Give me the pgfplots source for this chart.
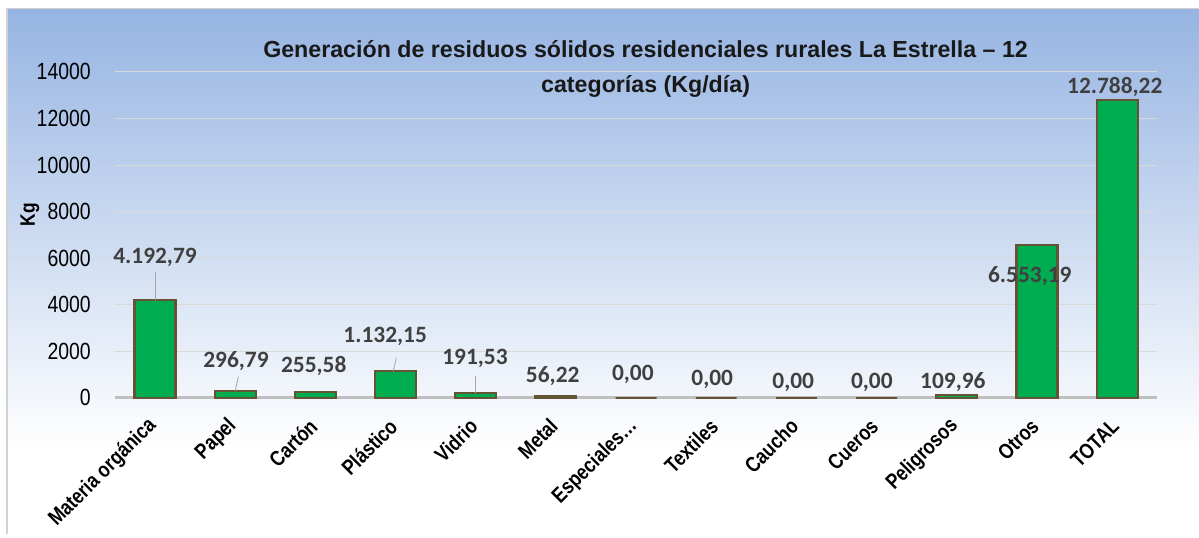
\documentclass[border=0pt]{standalone}
\usepackage{fontspec}
\setmainfont{Liberation Sans}
\newfontfamily\nar[FakeStretch=0.83]{Liberation Sans}
\newfontfamily\carl{Carlito}
\usepackage{pgfplots}
\pgfplotsset{compat=1.18}
\definecolor{bgtop}{RGB}{150,180,226}
\definecolor{barg}{RGB}{0,172,80}
\definecolor{bard}{RGB}{98,84,52}
\definecolor{lbl}{RGB}{64,64,64}
\definecolor{grd}{RGB}{217,217,217}
\definecolor{frm}{RGB}{210,210,210}
\begin{document}
\begin{tikzpicture}[x=1bp,y=1bp]
\fill[white] (0,0) rectangle (1199,538);
\shade[top color=bgtop, bottom color=white] (8,90) rectangle (1199,529);
\draw[frm, line width=1.5bp] (7,4) -- (7,529.5) -- (1199,529.5);
\node[font=\bfseries\fontsize{23.3}{24}\selectfont, anchor=base, text=black!90] at (646,480) {Generación de residuos sólidos residenciales rurales La Estrella – 12};
\node[font=\bfseries\fontsize{23.3}{24}\selectfont, anchor=base, text=black!90] at (646,445) {categorías (Kg/día)};
\node[font=\nar\bfseries\fontsize{21}{22}\selectfont, rotate=90] at (30,323) {Kg};
\begin{axis}[at={(115bp,140bp)}, anchor=south west, scale only axis,
  width=1043bp, height=326bp,
  xmin=-0.5, xmax=12.5, ymin=0, ymax=14000,
  ytick={0,2000,...,14000}, xtick={0,...,12},
  xticklabels={Materia orgánica,Papel,Cartón,Plástico,Vidrio,Metal,Especiales…,Textiles,Caucho,Cueros,Peligrosos,Otros,TOTAL},
  axis x line*=bottom, axis y line*=left,
  y axis line style={draw=none},
  x axis line style={draw=black!25, line width=2.5bp, -},
  major tick length=0pt,
  ymajorgrids, grid style={grd, line width=1bp},
  scaled y ticks=false,
  /pgf/number format/assume math mode=true,
  /pgf/number format/1000 sep={},
  yticklabel style={font=\nar\fontsize{23.5}{24}\selectfont, inner sep=0pt, anchor=east, xshift=-24bp},
  xticklabel style={font=\nar\bfseries\fontsize{21.5}{22}\selectfont, anchor=east, inner sep=0pt, xshift=-2bp, yshift=-25bp, rotate=45},
  clip=false,
]
\addplot[ybar, bar width=0.51, fill=barg, draw=bard, line width=2.2bp]
  coordinates {(0,4192.79) (1,296.79) (2,255.58) (3,1132.15) (4,191.53) (5,56.22) (6,0) (7,0) (8,0) (9,0) (10,109.96) (11,6553.19) (12,12788.22)};
\draw[black!35, line width=0.8bp] (axis cs:0,4192.79) -- (axis cs:0,5420);
\draw[black!35, line width=0.8bp] (axis cs:1,300) -- (axis cs:1.04,900);
\draw[black!35, line width=0.8bp] (axis cs:2.97,1132.15) -- (axis cs:3.01,1720);
\draw[black!35, line width=0.8bp] (axis cs:4,191.53) -- (axis cs:4,945);
\begin{scope}[every node/.style={font=\carl\bfseries\fontsize{23.5}{24}\selectfont, text=lbl, inner sep=0pt}]
\node at (axis cs:0,6050) {4.192,79};
\node at (axis cs:1.01,1590) {296,79};
\node at (axis cs:1.98,1374) {255,58};
\node at (axis cs:2.87,2620) {1.132,15};
\node at (axis cs:3.99,1675) {191,53};
\node at (axis cs:4.96,945) {56,22};
\node at (axis cs:5.96,988) {0,00};
\node at (axis cs:6.95,773) {0,00};
\node at (axis cs:7.96,644) {0,00};
\node at (axis cs:8.94,644) {0,00};
\node at (axis cs:9.95,687) {109,96};
\node at (axis cs:10.91,5230) {6.553,19};
\node at (axis cs:11.97,13356) {12.788,22};
\end{scope}
\end{axis}
\end{tikzpicture}
\end{document}
